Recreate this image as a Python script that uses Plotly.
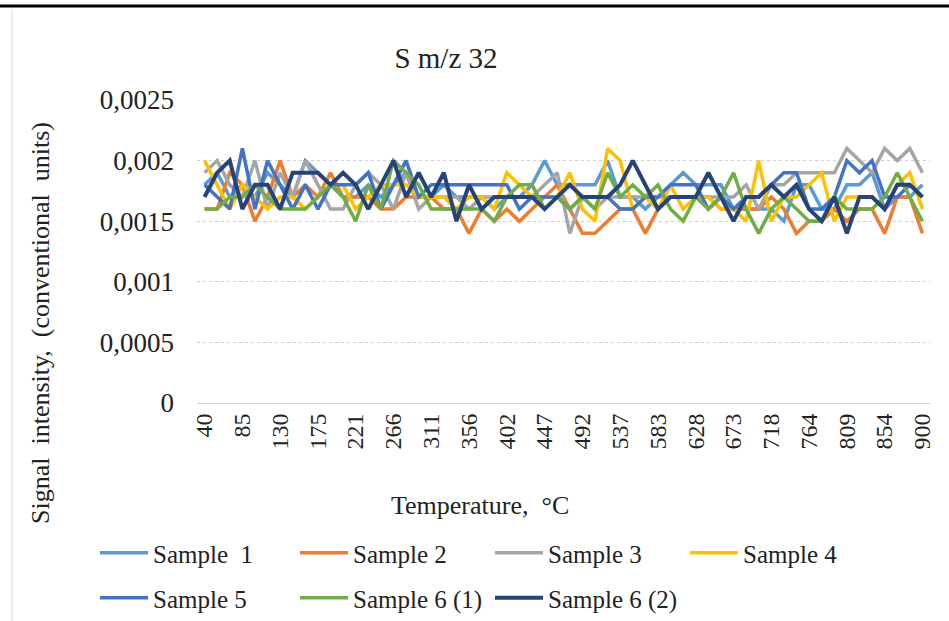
import plotly.graph_objects as go

temperatures = [40, 55, 70, 85, 100, 115, 130, 145, 160, 175, 190, 205, 221, 236, 251,
                266, 281, 296, 311, 326, 341, 356, 371, 387, 402, 417, 432, 447, 462, 477,
                492, 507, 522, 537, 552, 568, 583, 598, 613, 628, 643, 658, 673, 688,
                703, 718, 734, 749, 764, 779, 794, 809, 824, 839, 854, 869, 884, 900]

sample1 = [0.0018, 0.0019, 0.0017, 0.0018, 0.0017, 0.0019, 0.0018, 0.0017, 0.0020, 0.0019, 0.0018, 0.0017, 0.0017, 0.0018, 0.0017,
           0.0018, 0.0019, 0.0017, 0.0017, 0.0018, 0.0017, 0.0017, 0.0017, 0.0016, 0.0017, 0.0017, 0.0018, 0.0020, 0.0018, 0.0018,
           0.0018, 0.0018, 0.0020, 0.0017, 0.0017, 0.0016, 0.0017, 0.0018, 0.0019, 0.0018, 0.0018, 0.0018, 0.0016, 0.0016,
           0.0016, 0.0016, 0.0015, 0.0018, 0.0018, 0.0016, 0.0016, 0.0018, 0.0018, 0.0019, 0.0016, 0.0017, 0.0017, 0.0018]
sample2 = [0.0016, 0.0016, 0.0019, 0.0018, 0.0015, 0.0017, 0.0020, 0.0017, 0.0018, 0.0017, 0.0019, 0.0017, 0.0017, 0.0017, 0.0016,
           0.0016, 0.0017, 0.0017, 0.0017, 0.0016, 0.0016, 0.0014, 0.0016, 0.0015, 0.0016, 0.0015, 0.0016, 0.0017, 0.0018, 0.0016,
           0.0014, 0.0014, 0.0015, 0.0016, 0.0016, 0.0014, 0.0016, 0.0017, 0.0017, 0.0017, 0.0017, 0.0016, 0.0016, 0.0016,
           0.0016, 0.0017, 0.0016, 0.0014, 0.0015, 0.0015, 0.0016, 0.0015, 0.0016, 0.0016, 0.0014, 0.0017, 0.0017, 0.0014]
sample3 = [0.0019, 0.0020, 0.0018, 0.0017, 0.0020, 0.0016, 0.0019, 0.0017, 0.0020, 0.0018, 0.0016, 0.0016, 0.0018, 0.0019, 0.0018,
           0.0016, 0.0019, 0.0016, 0.0017, 0.0017, 0.0017, 0.0016, 0.0017, 0.0017, 0.0017, 0.0017, 0.0017, 0.0018, 0.0019, 0.0014,
           0.0017, 0.0016, 0.0017, 0.0017, 0.0017, 0.0017, 0.0017, 0.0017, 0.0017, 0.0017, 0.0017, 0.0017, 0.0017, 0.0018,
           0.0016, 0.0018, 0.0018, 0.0019, 0.0019, 0.0019, 0.0019, 0.0021, 0.0020, 0.0019, 0.0021, 0.0020, 0.0021, 0.0019]
sample4 = [0.0020, 0.0018, 0.0016, 0.0018, 0.0017, 0.0016, 0.0017, 0.0017, 0.0016, 0.0017, 0.0018, 0.0018, 0.0016, 0.0017, 0.0018,
           0.0018, 0.0018, 0.0017, 0.0017, 0.0017, 0.0016, 0.0017, 0.0017, 0.0016, 0.0019, 0.0018, 0.0017, 0.0017, 0.0017, 0.0019,
           0.0016, 0.0015, 0.0021, 0.0020, 0.0016, 0.0017, 0.0016, 0.0018, 0.0016, 0.0017, 0.0017, 0.0016, 0.0016, 0.0015,
           0.0020, 0.0015, 0.0017, 0.0017, 0.0018, 0.0019, 0.0015, 0.0017, 0.0017, 0.0017, 0.0016, 0.0018, 0.0019, 0.0016]
sample5 = [0.0018, 0.0017, 0.0016, 0.0021, 0.0016, 0.0020, 0.0018, 0.0016, 0.0018, 0.0016, 0.0018, 0.0018, 0.0018, 0.0019, 0.0016,
           0.0018, 0.0020, 0.0017, 0.0018, 0.0018, 0.0018, 0.0018, 0.0018, 0.0018, 0.0018, 0.0016, 0.0017, 0.0017, 0.0017, 0.0016,
           0.0017, 0.0017, 0.0017, 0.0016, 0.0016, 0.0017, 0.0017, 0.0018, 0.0018, 0.0018, 0.0016, 0.0017, 0.0016, 0.0017,
           0.0017, 0.0018, 0.0019, 0.0019, 0.0016, 0.0016, 0.0017, 0.0020, 0.0019, 0.0020, 0.0017, 0.0017, 0.0018, 0.0017]
sample6_1 = [0.0016, 0.0016, 0.0017, 0.0017, 0.0018, 0.0017, 0.0016, 0.0016, 0.0016, 0.0017, 0.0018, 0.0017, 0.0015, 0.0018, 0.0016,
             0.0020, 0.0019, 0.0018, 0.0016, 0.0016, 0.0016, 0.0016, 0.0016, 0.0015, 0.0017, 0.0018, 0.0018, 0.0016, 0.0017, 0.0016,
             0.0017, 0.0016, 0.0019, 0.0017, 0.0018, 0.0017, 0.0018, 0.0016, 0.0015, 0.0017, 0.0016, 0.0017, 0.0019, 0.0016,
             0.0014, 0.0016, 0.0017, 0.0016, 0.0015, 0.0015, 0.0017, 0.0016, 0.0016, 0.0016, 0.0017, 0.0019, 0.0017, 0.0015]
sample6_2 = [0.0017, 0.0019, 0.0020, 0.0016, 0.0018, 0.0018, 0.0016, 0.0019, 0.0019, 0.0019, 0.0018, 0.0019, 0.0018, 0.0016, 0.0018,
             0.0020, 0.0017, 0.0019, 0.0017, 0.0019, 0.0015, 0.0018, 0.0016, 0.0017, 0.0017, 0.0017, 0.0017, 0.0016, 0.0017, 0.0018,
             0.0017, 0.0017, 0.0017, 0.0018, 0.0020, 0.0018, 0.0016, 0.0017, 0.0017, 0.0017, 0.0019, 0.0017, 0.0015, 0.0017,
             0.0017, 0.0018, 0.0017, 0.0018, 0.0016, 0.0015, 0.0017, 0.0014, 0.0017, 0.0017, 0.0016, 0.0018, 0.0018, 0.0017]

series_names = ["Sample\u00a0 1", "Sample 2", "Sample 3", "Sample 4", "Sample 5", "Sample 6 (1)", "Sample 6 (2)"]
series_values = [sample1, sample2, sample3, sample4, sample5, sample6_1, sample6_2]
series_colors = ["#5B9BD5", "#ED7D31", "#A5A5A5", "#FFC000", "#4472C4", "#70AD47", "#264478"]
series_widths = [3.5, 3.5, 3.5, 3.5, 3.5, 3.5, 4]

y_ticks = [0, 0.0005, 0.001, 0.0015, 0.002, 0.0025]
y_tick_labels = ["0", "0,0005", "0,001", "0,0015", "0,002", "0,0025"]

x_labels = [str(t) for t in temperatures]
x_tick_labels = x_labels[::3]

FONT = "Liberation Serif, Times New Roman, serif"
TXT = "#222222"

# plot area in px: left 197, right 930, top 100, bottom 403
L, R, T, B = 197, 930, 100, 403
W, H = 949, 621
def px(x):
    return (x - L) / (R - L)
def py(y):
    return (B - y) / (B - T)

# legend entry positions (left px, row top px) - one legend per entry
legend_pos = [(95, 530), (295, 530), (490, 530), (685, 530),
              (95, 575), (295, 575), (490, 575)]

fig = go.Figure()
legend_layout = {}
for k, (name, vals, col, w) in enumerate(zip(series_names, series_values, series_colors, series_widths)):
    lname = "legend" if k == 0 else f"legend{k + 1}"
    fig.add_trace(go.Scatter(
        x=x_labels, y=vals, mode="lines", name=name,
        line=dict(color=col, width=w),
        legend=lname,
    ))
    lx, ly = legend_pos[k]
    legend_layout[lname] = dict(orientation="h", xref="container", yref="container",
                                x=lx / W, y=1 - ly / H, xanchor="left", yanchor="top",
                                font=dict(family=FONT, size=25, color=TXT),
                                bgcolor="rgba(0,0,0,0)", itemwidth=48)

fig.update_layout(
    width=W, height=H,
    margin=dict(l=L, r=W - R, t=T, b=H - B, autoexpand=False),
    paper_bgcolor="white", plot_bgcolor="white",
    font=dict(family=FONT, color=TXT),
    title=dict(text="S m/z 32", font=dict(family=FONT, size=29, color=TXT),
               xref="container", yref="container", x=446 / W, y=1 - 58 / H,
               xanchor="center", yanchor="middle"),
    xaxis=dict(type="category", tickmode="array", tickvals=x_tick_labels, ticktext=x_tick_labels,
               tickangle=-90, tickfont=dict(family=FONT, size=24, color=TXT),
               showgrid=False, showline=True, linecolor="#CFCFCF", linewidth=1,
               ticks="", range=[-0.6, len(x_labels) - 0.4]),
    yaxis=dict(range=[0, 0.0025], tickmode="array", tickvals=y_ticks, ticktext=y_tick_labels,
               tickfont=dict(family=FONT, size=27, color=TXT), ticklabelstandoff=22,
               showgrid=True, gridcolor="#CFCFCF", griddash="dot", gridwidth=1,
               zeroline=False, showline=False, ticks=""),
    showlegend=True,
    **legend_layout,
)

fig.add_annotation(text="Temperature,\u00a0 \u00b0C", xref="paper", yref="paper",
                   x=px(480), y=py(505), showarrow=False, xanchor="center", yanchor="middle",
                   font=dict(family=FONT, size=26, color=TXT))
fig.add_annotation(text="Signal\u00a0 intensity,\u00a0 (conventional\u00a0 units)", xref="paper", yref="paper",
                   x=px(40), y=py(323), showarrow=False, textangle=-90, xanchor="center", yanchor="middle",
                   font=dict(family=FONT, size=26, color=TXT))

# chart frame: black rule at top and light left border
fig.add_shape(type="line", xref="paper", yref="paper", x0=px(0), x1=px(W), y0=py(6), y1=py(6),
              line=dict(color="black", width=3))
fig.add_shape(type="line", xref="paper", yref="paper", x0=px(12), x1=px(12), y0=py(9), y1=py(H),
              line=dict(color="#D9D9D9", width=1))

fig.write_html("out.html")
